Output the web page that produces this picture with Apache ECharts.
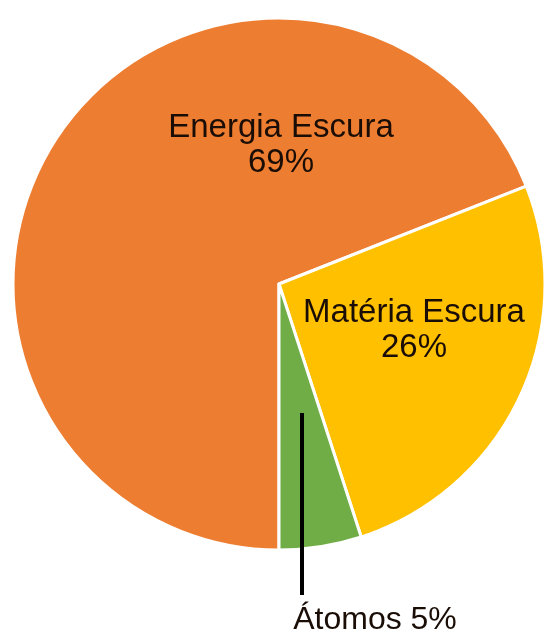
<!DOCTYPE html>
<html>
<head>
<meta charset="utf-8">
<script src="https://cdn.jsdelivr.net/npm/echarts@6/dist/echarts.min.js"></script>
<style>
html,body{margin:0;padding:0;background:#fff;}
#chart{width:547px;height:637px;}
</style>
</head>
<body>
<div id="chart"></div>
<script>
const categories = ['Energia Escura', 'Matéria Escura', 'Átomos'];
const values = [69, 26, 5];
const colors = ['#ED7D31', '#FFC000', '#70AD47'];

const chart = echarts.init(document.getElementById('chart'), null, {renderer: 'canvas'});

const labelPos = [
  {x: 281, y: 145},
  {x: 414, y: 330},
  {x: 375, y: 620}
];
// leader line for the small slice label (from inside slice down to label)
const leader = {x: 302, y1: 413, y2: 595};

const data = categories.map((name, i) => {
  const item = {name: name, value: values[i], itemStyle: {color: colors[i]}};
  if (i === 2) {
    item.label = {position: 'outside', formatter: '{b} {d}%', fontSize: 32};
    item.labelLine = {show: false};
  } else {
    item.label = {position: 'inside', formatter: '{b}\n{d}%', fontSize: 33};
    item.labelLine = {show: false};
  }
  return item;
});

chart.setOption({
  animation: false,
  backgroundColor: '#fff',
  graphic: [{
    type: 'line',
    z: 100,
    shape: {x1: leader.x, y1: leader.y1, x2: leader.x, y2: leader.y2},
    style: {stroke: '#000', lineWidth: 4}
  }],
  series: [{
    type: 'pie',
    center: [279, 284],
    radius: 266,
    startAngle: 270,
    clockwise: true,
    avoidLabelOverlap: false,
    itemStyle: {borderColor: '#fff', borderWidth: 3},
    label: {
      show: true,
      color: '#1a0d05',
      fontFamily: 'Liberation Sans, Arial, sans-serif',
      fontSize: 33,
      lineHeight: 35,
      align: 'center'
    },
    labelLayout: function (params) {
      const p = labelPos[params.dataIndex];
      return {x: p.x, y: p.y, align: 'center', verticalAlign: 'middle'};
    },
    data: data
  }]
});
</script>
</body>
</html>
